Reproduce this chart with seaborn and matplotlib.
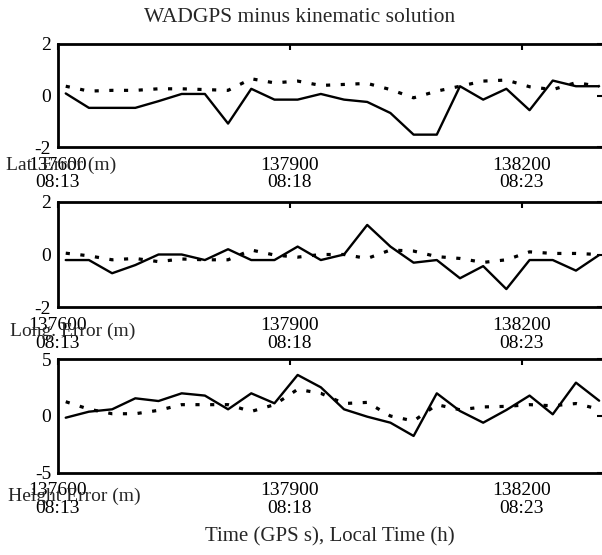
import numpy as np
import pandas as pd
import seaborn as sns
import matplotlib
matplotlib.use("Agg")
import matplotlib.pyplot as plt

# GPS time of each sample (s), one every 30 s
gps_time = list(range(137610, 138301, 30))

# solid = WADGPS minus kinematic, dotted = second solution
lat_solid = [0.08, -0.48, -0.48, -0.48, -0.22, 0.06, 0.06, -1.09, 0.26, -0.16, -0.16, 0.06,
             -0.16, -0.25, -0.68, -1.52, -1.52, 0.36, -0.16, 0.26, -0.57, 0.58, 0.36, 0.36]
lat_dotted = [0.36, 0.17, 0.2, 0.2, 0.26, 0.26, 0.23, 0.2, 0.65, 0.49, 0.56, 0.39,
              0.43, 0.47, 0.23, -0.09, 0.17, 0.36, 0.56, 0.6, 0.34, 0.23, 0.5, 0.36]

lon_solid = [-0.21, -0.21, -0.71, -0.4, 0.0, 0.0, -0.21, 0.2, -0.21, -0.21, 0.3, -0.21,
             0.0, 1.12, 0.3, -0.31, -0.21, -0.9, -0.44, -1.31, -0.21, -0.21, -0.61, -0.02]
lon_dotted = [0.05, -0.05, -0.2, -0.15, -0.27, -0.17, -0.2, -0.2, 0.17, -0.02, -0.1, 0.0,
              0.0, -0.15, 0.17, 0.13, -0.08, -0.15, -0.3, -0.2, 0.1, 0.04, 0.04, 0.0]

hgt_solid = [-0.15, 0.38, 0.59, 1.56, 1.32, 2.0, 1.8, 0.59, 2.0, 1.12, 3.62, 2.53,
             0.59, -0.06, -0.59, -1.76, 2.0, 0.44, -0.59, 0.53, 1.8, 0.15, 2.94, 1.35]
hgt_dotted = [1.26, 0.6, 0.2, 0.2, 0.5, 1.0, 1.0, 1.0, 0.4, 1.0, 2.35, 2.0,
              1.1, 1.2, 0.0, -0.44, 1.0, 0.55, 0.8, 0.85, 1.0, 0.9, 1.1, 0.6]

tick_pos = [137600, 137900, 138200]
tick_labels = ["137600\n08:13", "137900\n08:18", "138200\n08:23"]

panel_names = ["Lat. Error (m)", "Long. Error (m)", "Height Error (m)"]
panel_ylim = [2, 2, 5]

sns.set_style("white")
plt.rcParams["font.family"] = ["Liberation Serif", "DejaVu Serif"]

W, H = 602, 555
fig = plt.figure(figsize=(W / 100, H / 100), dpi=100)

# axes boxes in pixels: (top, bottom)
boxes = [(44, 147), (201.7, 307.3), (359.3, 472.7)]
left_px, right_px = 58, 603
label_pos = [(6, 165), (10, 331), (8, 496)]

series = [(lat_solid, lat_dotted), (lon_solid, lon_dotted), (hgt_solid, hgt_dotted)]

for i, (top, bot) in enumerate(boxes):
    ax = fig.add_axes([left_px / W, 1 - bot / H, (right_px - left_px) / W, (bot - top) / H])
    df = pd.DataFrame({"t": gps_time, "solid": series[i][0], "dotted": series[i][1]})
    sns.lineplot(data=df, x="t", y="dotted", ax=ax, color="black", lw=2.3,
                 ls=(0, (1.3, 3.3)), errorbar=None)
    sns.lineplot(data=df, x="t", y="solid", ax=ax, color="black", lw=1.7, errorbar=None)

    lim = panel_ylim[i]
    ax.set_xlim(137600, 138305)
    ax.set_ylim(-lim, lim)
    ax.set_yticks([-lim, 0, lim])
    ax.set_yticklabels([f"-{lim}", "0", f"{lim}"])
    ax.set_xticks(tick_pos)
    ax.set_xticklabels(tick_labels)
    for lbl in ax.get_xticklabels():
        lbl.set_linespacing(1.05)
    ax.set_xlabel("")
    ax.set_ylabel("")
    ax.tick_params(direction="in", length=4, width=1.5, top=True, right=True,
                   labelsize=14, pad=7, colors="black")
    ax.tick_params(axis="y", pad=5)
    for sp in ax.spines.values():
        sp.set_visible(True)
        sp.set_linewidth(2)
        sp.set_color("black")

    fig.text(label_pos[i][0] / W, 1 - label_pos[i][1] / H, panel_names[i],
             ha="left", va="center", fontsize=14)

fig.text(300 / W, 1 - 18 / H, "WADGPS minus kinematic solution",
         ha="center", va="center", fontsize=15.5)
fig.text(330 / W, 1 - 537 / H, "Time (GPS s), Local Time (h)",
         ha="center", va="center", fontsize=15)

fig.savefig("out.png", dpi=100)
